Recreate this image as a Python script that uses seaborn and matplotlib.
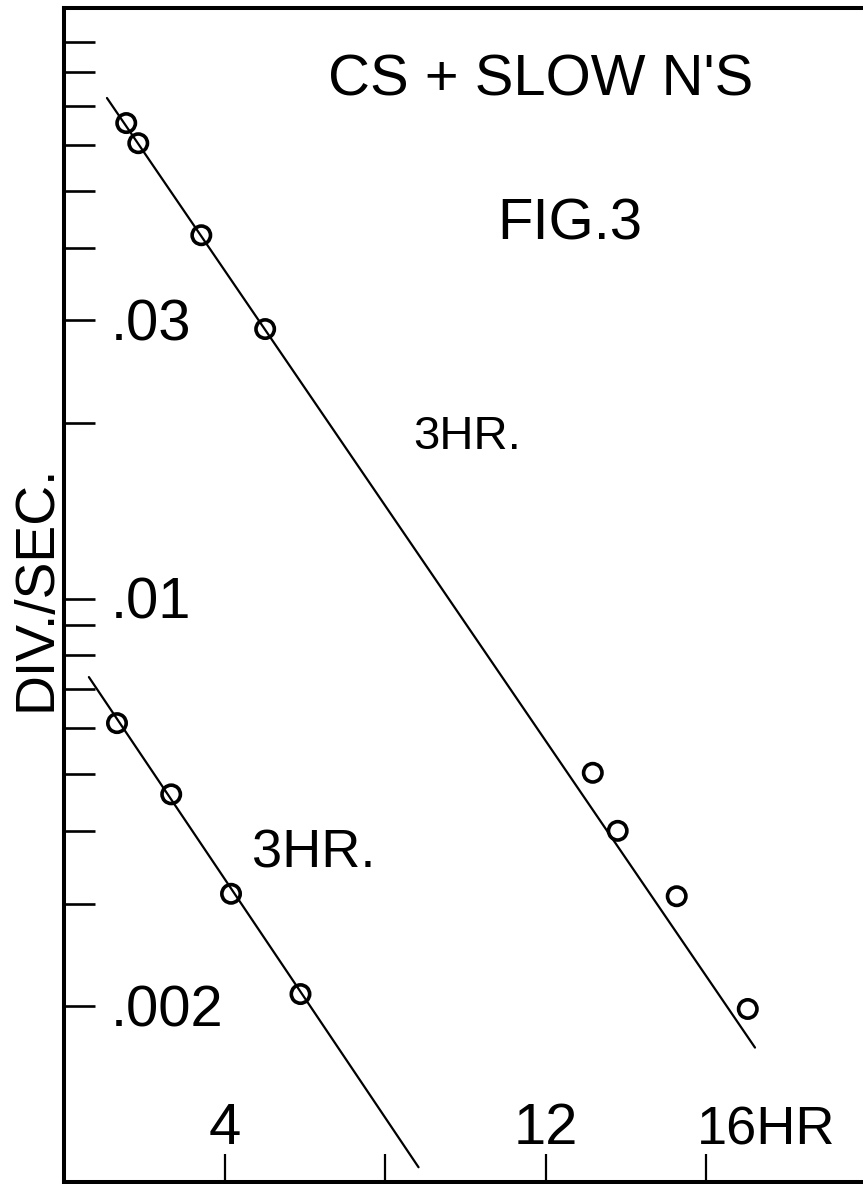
import matplotlib
matplotlib.use("Agg")
import matplotlib.pyplot as plt
import seaborn as sns
from matplotlib.ticker import FixedLocator, NullLocator, NullFormatter

# ---------------- data ----------------
upper_hours = [1.55, 1.85, 3.42, 5.01, 13.17, 13.79, 15.26, 17.03]
upper_rate = [0.0654, 0.0604, 0.0420, 0.0290, 0.00503, 0.00400, 0.00309, 0.00198]
lower_hours = [1.32, 2.67, 4.16, 5.89]
lower_rate = [0.00612, 0.00462, 0.00312, 0.00210]

upper_fit_hours = [1.07, 17.21]
upper_fit_rate = [0.0722, 0.00170]
lower_fit_hours = [0.62, 8.83]
lower_fit_rate = [0.00734, 0.00106]

y_tick_values = [0.002, 0.003, 0.004, 0.005, 0.006, 0.007, 0.008, 0.009,
                 0.01, 0.02, 0.03, 0.04, 0.05, 0.06, 0.07, 0.08, 0.09]
y_label_values = [0.03, 0.01, 0.002]
y_label_texts = [".03", ".01", ".002"]
x_tick_values = [4, 8, 12, 16]
x_label_texts = ["4", "", "12", "16HR"]

title_text = "CS + SLOW N'S"
fig_text = "FIG.3"
halflife_texts = ["3HR.", "3HR."]
y_axis_title = "DIV./SEC."

# ---------------- style ----------------
sns.set_style("ticks")
plt.rcParams["font.family"] = ["Liberation Sans", "DejaVu Sans"]

W, H = 863, 1184
fig = plt.figure(figsize=(W / 100, H / 100), dpi=100)
fig.patch.set_facecolor("white")

ax_left, ax_right, ax_top, ax_bottom = 64, 863, 8, 1182
ax = fig.add_axes([ax_left / W, 1 - ax_bottom / H,
                   (ax_right - ax_left) / W, (ax_bottom - ax_top) / H])
ax.set_facecolor("white")

ax.set_yscale("log")
ax.set_xlim(0, 19.9)
ax.set_ylim(0.001, 0.103)

# fitted lines
for hx, ry in [(upper_fit_hours, upper_fit_rate), (lower_fit_hours, lower_fit_rate)]:
    sns.lineplot(x=hx, y=ry, ax=ax, color="black", linewidth=1.6,
                 estimator=None, sort=False, legend=False)

# measured points (open circles)
for hx, ry in [(upper_hours, upper_rate), (lower_hours, lower_rate)]:
    sns.scatterplot(x=hx, y=ry, ax=ax, marker="o", s=175, facecolors="none",
                    edgecolor="black", linewidth=2.6, legend=False, zorder=3)

# spines
for side in ["left", "top", "bottom"]:
    ax.spines[side].set_linewidth(2.9)
    ax.spines[side].set_color("black")
ax.spines["right"].set_visible(False)

# ticks (drawn inward)
ax.yaxis.set_major_locator(FixedLocator(y_tick_values))
ax.yaxis.set_minor_locator(NullLocator())
ax.yaxis.set_major_formatter(NullFormatter())
ax.yaxis.set_minor_formatter(NullFormatter())
ax.xaxis.set_major_locator(FixedLocator(x_tick_values))
ax.xaxis.set_minor_locator(NullLocator())
ax.xaxis.set_major_formatter(NullFormatter())
ax.tick_params(axis="y", direction="in", length=22, width=1.9, color="black",
               left=True, right=False)
ax.tick_params(axis="x", direction="in", length=20, width=1.6, color="black",
               bottom=True, top=False)
ax.set_xlabel("")
ax.set_ylabel("")

FS = 41.8  # cap height ~40 px

# y value labels, inside the frame to the right of the ticks
for val, txt in zip(y_label_values, y_label_texts):
    ax.annotate(txt, xy=(0.0, val), xycoords=("axes fraction", "data"),
                xytext=(34, -14.4), textcoords="offset points",
                ha="left", va="baseline", fontsize=FS, color="black")

# x value labels, inside the frame above the ticks
x_label_style = {"4": ("center", 0, FS), "12": ("center", 0, FS),
                 "16HR": ("left", -7, 39)}
for val, txt in zip(x_tick_values, x_label_texts):
    if not txt:
        continue
    ha, dx, fs = x_label_style[txt]
    ax.annotate(txt, xy=(val, 0.0), xycoords=("data", "axes fraction"),
                xytext=(dx, 27), textcoords="offset points",
                ha=ha, va="baseline", fontsize=fs, color="black")


def px(x, y):
    return x / W, 1 - y / H


fig.text(*px(541, 95), title_text, ha="center", va="baseline",
         fontsize=FS, color="black")
fig.text(*px(570, 240), fig_text, ha="center", va="baseline",
         fontsize=FS, color="black")
fig.text(*px(413, 449), halflife_texts[0], ha="left", va="baseline",
         fontsize=34, color="black")
fig.text(*px(252, 867), halflife_texts[1], ha="left", va="baseline",
         fontsize=39, color="black")
fig.text(*px(36, 588), y_axis_title, ha="center", va="center", rotation=90,
         fontsize=39.8, color="black")

fig.savefig("out.png", dpi=100, facecolor="white")
